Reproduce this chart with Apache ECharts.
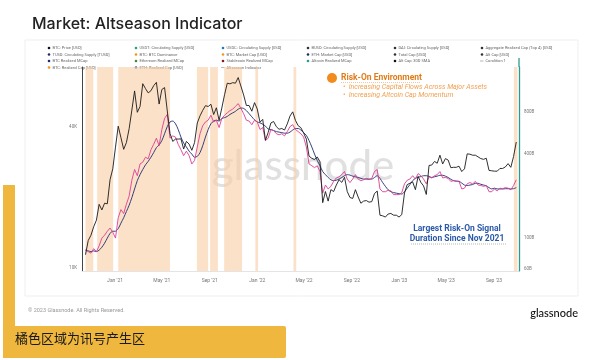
<!DOCTYPE html>
<html><head><meta charset="utf-8">
<script src="https://cdn.jsdelivr.net/npm/echarts@6/dist/echarts.min.js"></script>
<style>html,body{margin:0;padding:0;background:#fff}#c{width:600px;height:360px}</style>
</head><body><div id="c"></div>
<script>
// weekly samples starting at START_DATE
const START_DATE = '2020-10-17';
const STEP_DAYS = 7;
// BTC price, thousands USD (left log axis)
const btcPrice = [
11.4,13.1,13.8,15.0,16.0,18.7,17.7,18.9,18.8,23.8,26.5,
32.8,40.3,36.0,32.1,34.3,39.3,47.2,57.0,46.2,48.9,61.2,58.3,55.9,57.1,60.0,62.0,50.1,57.8,58.9,46.8,37.5,34.7,35.5,35.5,35.6,32.2,34.7,33.8,31.8,34.3,41.6,44.6,47.1,49.3,48.9,50.0,45.2,48.3,42.7,48.2,54.9,61.5,61.1,61.8,61.5,65.0,59.7,54.8,49.4,49.4,46.7,50.8,
47.7,41.9,43.1,35.1,37.9,41.6,42.2,40.1,39.1,39.4,38.8,41.2,44.5,46.4,42.7,40.5,39.7,37.7,35.5,30.0,29.4,29.0,29.8,28.4,19.0,21.2,19.3,21.6,21.2,22.6,23.8,23.2,24.4,21.2,20.0,19.8,21.6,20.1,18.9,19.3,19.4,19.1,19.2,20.8,21.3,16.8,16.7,16.5,17.0,17.1,16.8,16.8,16.5,
16.9,20.9,22.7,23.0,23.3,21.6,24.6,23.2,22.4,20.6,27.4,27.5,28.5,28.0,30.3,27.8,29.3,28.9,26.8,26.9,26.9,27.2,25.8,26.5,30.7,30.6,30.3,30.3,29.8,29.3,29.1,29.4,26.1,26.0,25.9,25.9,26.6,26.6,27.0,27.9,26.9,29.9,34.5];
// Alt cap, billions USD (right log axis)
const altCap = [
82,80,78,84,80,88,100,105,112,118,110,
100,140,160,150,175,200,260,310,280,340,
350,380,370,430,470,520,460,600,720,770,
520,540,530,470,430,390,420,390,340,360,
450,560,640,680,700,760,680,700,620,
720,760,790,820,840,880,920,850,780,
700,690,650,700,
680,600,620,500,520,
600,590,560,550,560,540,580,630,650,600,580,560,530,
450,340,330,320,330,300,210,240,
225,235,255,270,275,285,300,265,250,
265,285,265,258,262,268,262,268,300,310,
225,215,215,220,218,205,205,205,
212,245,260,265,280,265,290,280,
265,245,275,270,280,285,300,270,272,
268,255,258,256,255,225,228,245,
250,245,255,240,238,235,238,215,215,
225,218,228,226,230,228,222,238,262];
// Alt cap 30D SMA, billions USD
const altCapSma = [
82,81,80,81,80,82,86,92,100,108,112,
112,117,128,140,155,172,195,225,258,285,
310,335,355,380,410,445,465,500,560,630,
680,690,660,600,530,480,450,420,400,380,
385,410,460,530,600,660,690,700,690,
720,730,745,770,790,810,840,855,850,
820,780,740,705,
680,670,655,635,605,
600,590,580,575,570,565,565,575,595,610,610,595,570,
545,500,450,400,360,330,300,285,
272,262,258,260,265,272,280,285,283,
278,275,272,268,265,265,265,265,272,280,
268,250,235,222,215,212,210,208,
207,215,228,242,258,268,273,276,
280,280,277,272,275,278,282,282,278,
272,264,258,256,255,248,240,238,
240,242,247,247,243,240,237,230,225,
228,225,225,225,226,226,225,226,230];
// Risk-on signal periods (orange bands)
const riskOnPeriods = [
['2020-10-17','2020-11-06'],['2020-11-16','2020-12-27'],['2021-01-09','2021-05-22'],
['2021-07-30','2021-08-28'],['2021-09-02','2021-09-22'],['2021-10-08','2021-11-23'],
['2021-12-27','2022-01-03'],['2022-04-04','2022-04-11'],['2023-10-22','2023-10-31']];
const xTickDates = ['2021-01-01','2021-05-01','2021-09-01','2022-01-01','2022-05-01','2022-09-01','2023-01-01','2023-05-01','2023-09-01'];
const leftTicks = [10, 40];
const rightTicks = [60, 100, 400, 800];
const legendRows = [
 [['BTC: Price [USD]','#111'],['USDT: Circulating Supply [USD]','#26a17b'],['USDC: Circulating Supply [USD]','#2775ca'],['BUSD: Circulating Supply [USD]','#333'],['DAI: Circulating Supply [USD]','#333'],['Aggregate Realized Cap (Top 4) [USD]','#333']],
 [['TUSD: Circulating Supply [TUSD]','#1f2b6e'],['BTC: BTC Dominance','#f7931a'],['BTC: Market Cap [USD]','#f7931a'],['ETH: Market Cap [USD]','#1f2b6e'],['Total Cap [USD]','#333'],['Alt Cap [USD]','#333']],
 [['BTC Realized MCap','#1f2b6e'],['Ethereum Realized MCap','#3a8d3a'],['Stablecoin Realized MCap','#8b1a1a'],['Altcoin Realized MCap','#2a9d8f'],['Alt Cap: 30D SMA','#111'],['Condition 1','line']],
 [['BTC: Realized Cap [USD]','#f7931a'],['ETH: Realized Cap [USD]','#2775ca'],['Altseason Indicator','line']]
];

const ts = s => new Date(s + 'T00:00:00Z').getTime();
const t0 = ts(START_DATE);
const dates = btcPrice.map((_, i) => t0 + i * STEP_DAYS * 86400000);
const mon = ['Jan','Feb','Mar','Apr','May','Jun','Jul','Aug','Sep','Oct','Nov','Dec'];
const FONT = 'Roboto, "Noto Sans", sans-serif';

const legendGraphics = [];
const colX = [49,136,223,308,395,482], rowY = [48,54.5,61,67.5];
legendRows.forEach((row, r) => row.forEach((it, c) => {
  const x = colX[c], y = rowY[r];
  if (it[1] === 'line') {
    legendGraphics.push({type:'line', shape:{x1:x-2,y1:y,x2:x+1.5,y2:y}, style:{stroke:'#888', lineWidth:0.6}});
  } else {
    legendGraphics.push({type:'circle', shape:{cx:x, cy:y, r:1.3}, style:{fill:it[1]}});
  }
  legendGraphics.push({type:'text', x:x+3.5, y:y, style:{text:it[0], fontSize:4, fill:'#666', fontFamily:FONT, verticalAlign:'middle'}});
}));

const chart = echarts.init(document.getElementById('c'), null, {renderer:'canvas'});
chart.setOption({
  backgroundColor:'#fff',
  animation:false,
  title:{text:'Market: Altseason Indicator', left:27, top:11, textStyle:{fontSize:16, fontWeight:500, color:'#222', fontFamily:'Inter, Roboto, sans-serif'}},
  grid:{left:82, right:81, top:67, bottom:89},
  xAxis:{type:'value', min:ts('2020-10-08'), max:ts('2023-11-04'),
    axisLine:{show:true, lineStyle:{color:'#e4e4e4'}}, axisTick:{show:false},
    splitLine:{show:false},
    axisLabel:{customValues:xTickDates.map(ts), fontSize:5, color:'#777', margin:7, fontFamily:FONT,
      formatter:v=>{const d=new Date(v); return mon[d.getUTCMonth()]+" '"+String(d.getUTCFullYear()).slice(2);}}},
  yAxis:[
    {type:'log', min:9.71, max:72.1, axisLine:{show:true, lineStyle:{color:'#444', width:1}}, axisTick:{show:false},
     splitLine:{show:false},
     axisLabel:{customValues:leftTicks, formatter:v=>Math.round(v)+'K', fontSize:4.5, color:'#777', margin:5, fontFamily:FONT}},
    {type:'log', min:58.1, max:1684, position:'right', axisLine:{show:true, lineStyle:{color:'#2a9d8f', width:1.3}}, axisTick:{show:false},
     splitLine:{show:false},
     axisLabel:{customValues:rightTicks, formatter:v=>Math.round(v)+'B', fontSize:4.5, color:'#777', margin:5, fontFamily:FONT}}
  ],
  series:[
    {type:'line', name:'bands', data:[], z:1, silent:true,
     markArea:{silent:true, itemStyle:{color:'rgba(250,205,165,0.6)'}, data:riskOnPeriods.map(p=>[{xAxis:ts(p[0])},{xAxis:ts(p[1])}])}},
    {type:'line', name:'Alt Cap: 30D SMA', yAxisIndex:1, data:dates.map((d,i)=>[d, altCapSma[i]]), showSymbol:false, smooth:0.3,
     lineStyle:{color:'#1f2b6e', width:0.9}, z:3},
    {type:'line', name:'Alt Cap', yAxisIndex:1, data:dates.map((d,i)=>[d, altCap[i]]), showSymbol:false,
     lineStyle:{color:'#de3d93', width:0.9}, z:4},
    {type:'line', name:'BTC: Price', yAxisIndex:0, data:dates.map((d,i)=>[d, btcPrice[i]]), showSymbol:false,
     lineStyle:{color:'#1a1a1a', width:0.9}, z:5}
  ],
  graphic:[
    {type:'rect', shape:{x:25, y:40, width:553, height:256}, style:{fill:'none', stroke:'#efefef', lineWidth:1}, z:-5},
    {type:'text', x:303, y:166, z:-2, style:{text:'glassnode', fontSize:42, fontWeight:500, fill:'rgba(0,0,0,0.12)', fontFamily:'Lato, sans-serif', align:'center', verticalAlign:'middle'}},
    {type:'line', shape:{x1:519, y1:58, x2:519, y2:67}, style:{stroke:'#2a9d8f', lineWidth:1.3}},
    ...legendGraphics,
    {type:'circle', shape:{cx:332, cy:78, r:5}, style:{fill:'#f28a1c'}, z:10},
    {type:'text', x:341, y:77.5, z:10, style:{text:'Risk-On Environment', fontSize:8.5, fontWeight:'bold', fill:'#e07c18', fontFamily:FONT, verticalAlign:'middle'}},
    {type:'line', shape:{x1:341, y1:82.5, x2:420, y2:82.5}, z:10, style:{stroke:'#e9a060', lineWidth:0.6, lineDash:[1,1]}},
    {type:'text', x:343, y:87.5, z:10, style:{text:'•  Increasing Capital Flows Across Major Assets', fontSize:7, fontStyle:'italic', fill:'#f0a050', fontFamily:FONT, verticalAlign:'middle'}},
    {type:'text', x:343, y:95.5, z:10, style:{text:'•  Increasing Altcoin Cap Momentum', fontSize:7, fontStyle:'italic', fill:'#f0a050', fontFamily:FONT, verticalAlign:'middle'}},
    {type:'text', x:457, y:229, z:10, style:{text:'Largest Risk-On Signal', fontSize:8.5, fontWeight:'bold', fill:'#2b5aa8', fontFamily:FONT, align:'center', verticalAlign:'middle'}},
    {type:'text', x:457, y:238.5, z:10, style:{text:'Duration Since Nov 2021', fontSize:8.5, fontWeight:'bold', fill:'#2b5aa8', fontFamily:FONT, align:'center', verticalAlign:'middle'}},
    {type:'line', shape:{x1:411, y1:244, x2:507, y2:244}, z:10, style:{stroke:'#888', lineWidth:0.6, lineDash:[1,1]}},
    {type:'text', x:28, y:311, style:{text:'© 2023 Glassnode. All Rights Reserved.', fontSize:5.5, fill:'#999', fontFamily:FONT, verticalAlign:'middle'}},
    {type:'text', x:578, y:313, style:{text:'glassnode', fontSize:11, fontWeight:500, fill:'#111', fontFamily:'Lato, sans-serif', align:'right', verticalAlign:'middle'}},
    {type:'rect', z:100, shape:{x:3, y:185, width:12, height:173}, style:{fill:'#efb73e'}},
    {type:'rect', z:100, shape:{x:3, y:326, width:283, height:32, r:2}, style:{fill:'#efb73e'}},
    {type:'text', z:101, x:15, y:338, style:{text:'橘色区域为讯号产生区', fontSize:13, fill:'#1a1a1a', fontFamily:'"Noto Sans CJK SC", sans-serif', verticalAlign:'middle'}}
  ]
});
</script></body></html>
